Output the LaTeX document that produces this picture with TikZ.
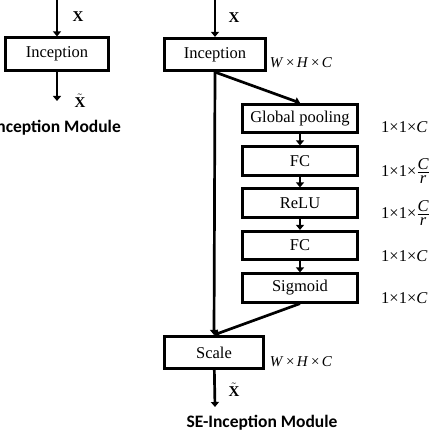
\documentclass[tikz,border=0pt]{standalone}
\usepackage{fontspec}
\setmainfont{Liberation Serif}
\newfontfamily\capfont{Carlito}
\usetikzlibrary{arrows.meta}

\newcommand{\cfrac}{\frac{\textit{C}\rule[-2.5pt]{0pt}{0pt}}{\rule{0pt}{11pt}\textit{r}}}

\tikzset{
  blk/.style={draw, line width=2.7pt, minimum width=101.5pt, minimum height=32.5pt, inner sep=0pt, font=\fontsize{16.5}{18}\selectfont},
  seblk/.style={blk, minimum width=115.5pt, minimum height=28.5pt},
  arr/.style={line width=2.7pt, -{Triangle[length=5pt,width=8pt]}},
  dimlbl/.style={anchor=west, inner sep=0pt, font=\fontsize{16.5}{18}\selectfont},
  whc/.style={inner sep=0pt, font=\fontsize{15}{17}\selectfont},
  sym/.style={inner sep=0pt, font=\fontsize{15}{17}\selectfont\bfseries},
  title/.style={inner sep=0pt, font=\fontsize{17.5}{20}\selectfont\capfont\bfseries}
}

\begin{document}
\begin{tikzpicture}[x=1pt,y=-1pt]
   \useasboundingbox (0,0) rectangle (432,438);
   \coordinate (in1) at (57,0);
   \coordinate (out1) at (57,101);
   \coordinate (in2) at (215,0);
   \coordinate (out2) at (215,407);
   \node[blk, minimum width=103.5pt] (inc1) at (57,54) {Inception};
   \node[blk] (inc2) at (215,54.5) {Inception};
   \node[blk, minimum width=99.5pt] (scale) at (214,352.5) {Scale};
   \node[seblk] (gp) at (300,118.5) {Global pooling};
   \node[seblk] (fc1) at (300,161) {FC};
   \node[seblk] (relu) at (300,203) {ReLU};
   \node[seblk] (fc2) at (300,245.5) {FC};
   \node[seblk] (sig) at (300,288) {Sigmoid};
   \draw[arr] (in1) -- (inc1);
   \draw[arr] (inc1) -- (out1);
   \draw[arr] (in2) -- (inc2);
   \draw[arr] (inc2.south) -- (scale.north);
   \draw[arr] (inc2.south) -- (gp.north);
   \foreach \a/\b in {gp/fc1,fc1/relu,relu/fc2,fc2/sig} {
    \draw[arr] (\a) -- (\b);
   }
   \draw[arr] (sig.south) -- (scale.north);
   \draw[arr] (scale) -- (out2);
   \node[sym] (x1) at (78,17) {X};
   \node[sym] (xt1) at (80,101) {$\tilde{\textbf{X}}$};
   \node[sym] (x2) at (234,18) {X};
   \node[sym] (xt2) at (234,390) {$\tilde{\textbf{X}}$};
   \node[whc] (d0) at (301,63) {\textit{W}\,×\,\textit{H}\,×\,\textit{C}};
   \node[whc] (d6) at (301,362) {\textit{W}\,×\,\textit{H}\,×\,\textit{C}};
   \node[dimlbl] (d1) at (381,127) {1×1×\textit{C}};
   \node[dimlbl] (d2) at (381,171) {1×1×$\cfrac$};
   \node[dimlbl] (d3) at (381,213) {1×1×$\cfrac$};
   \node[dimlbl] (d4) at (381,256) {1×1×\textit{C}};
   \node[dimlbl] (d5) at (381,298) {1×1×\textit{C}};
   \node[title, anchor=east] (t1) at (121,128) {Inception Module};
   \node[title] (t2) at (262,423) {SE-Inception Module};
\end{tikzpicture}
\end{document}
